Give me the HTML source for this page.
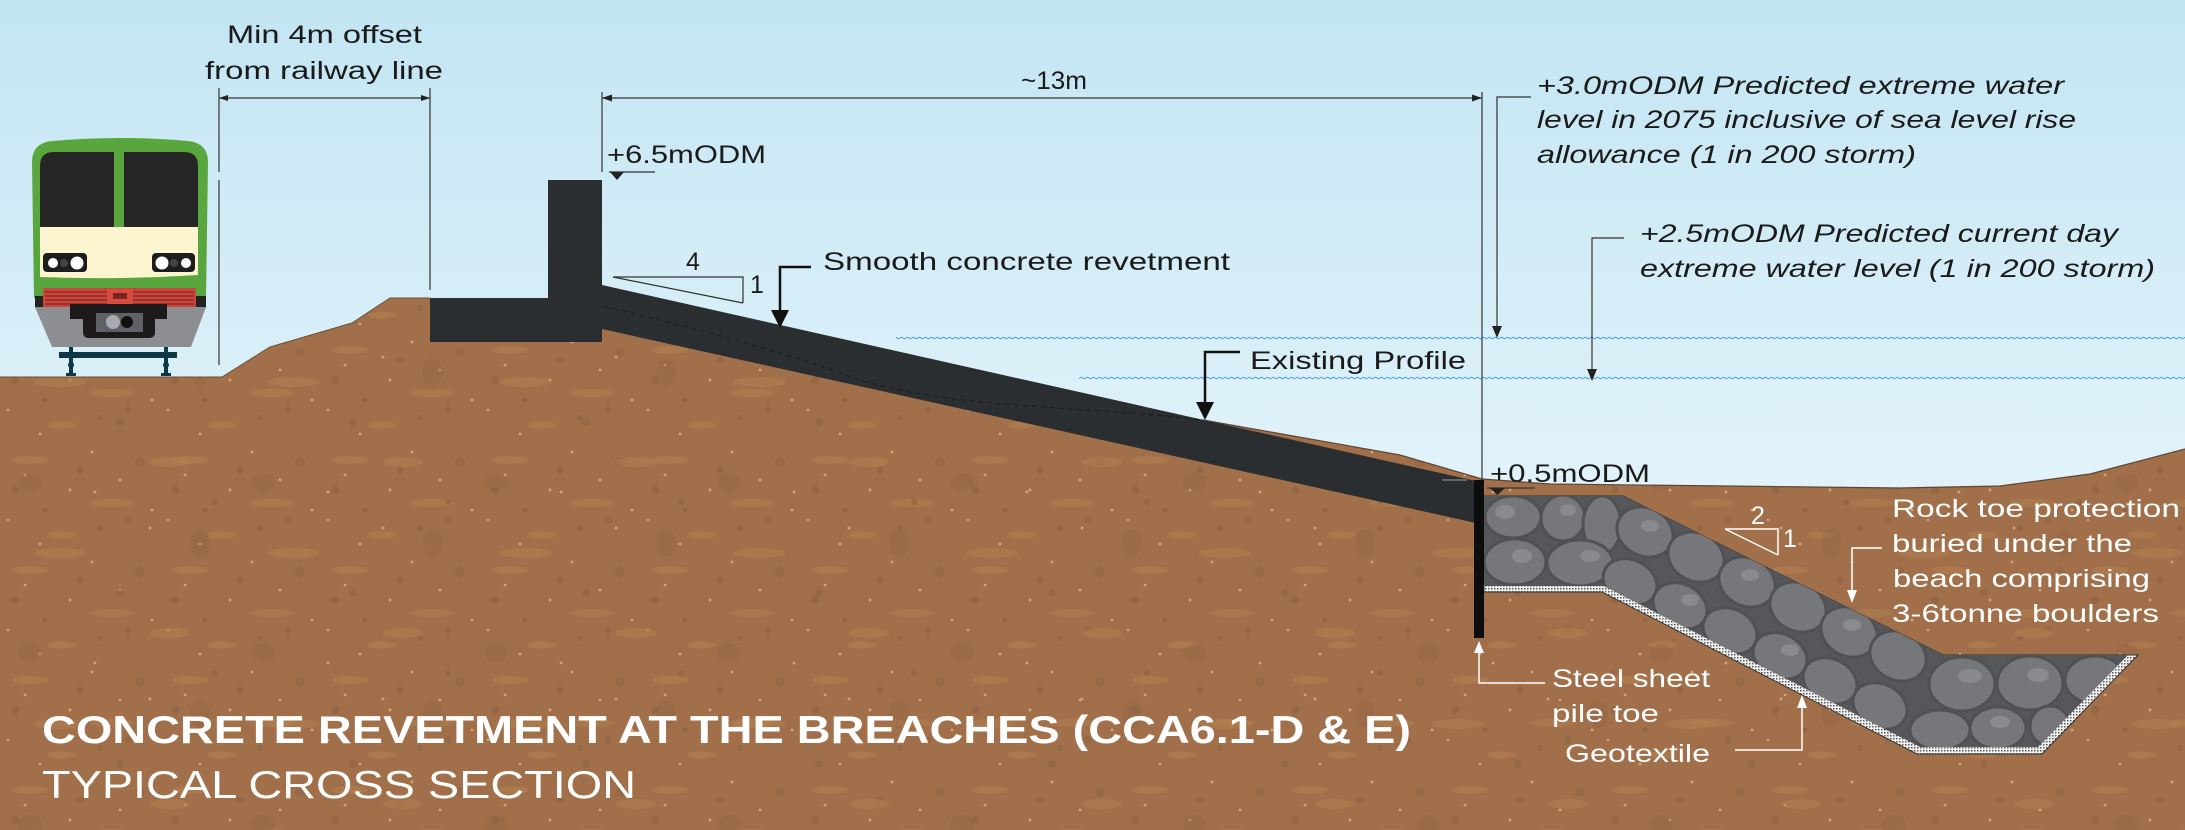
<!DOCTYPE html>
<html>
<head>
<meta charset="utf-8">
<style>
html,body{margin:0;padding:0;background:#c9e8f5;}
svg{display:block;}
text{font-family:"Liberation Sans",sans-serif;}
</style>
</head>
<body>
<svg width="2185" height="830" viewBox="0 0 2185 830" xmlns="http://www.w3.org/2000/svg">
<defs>
  <linearGradient id="sky" x1="0" y1="0" x2="0" y2="1">
    <stop offset="0" stop-color="#c3e5f3"/>
    <stop offset="0.6" stop-color="#e2f3fa"/>
    <stop offset="1" stop-color="#eef8fc"/>
  </linearGradient>
  <pattern id="soil" width="160" height="110" patternUnits="userSpaceOnUse">
    <rect width="160" height="110" fill="#a1704a"/>
    <ellipse cx="30" cy="20" rx="18" ry="4" fill="#b07d4e" opacity="0.7"/>
    <ellipse cx="112" cy="63" rx="22" ry="4" fill="#b07d4e" opacity="0.6"/>
    <ellipse cx="62" cy="95" rx="14" ry="3.5" fill="#b07d4e" opacity="0.7"/>
    <circle cx="15" cy="50" r="4" fill="#8c6142" opacity="0.6"/>
    <circle cx="80" cy="30" r="3.5" fill="#8c6142" opacity="0.6"/>
    <circle cx="140" cy="22" r="5" fill="#8c6142" opacity="0.45"/>
    <circle cx="100" cy="88" r="3" fill="#8c6142" opacity="0.6"/>
    <circle cx="45" cy="70" r="2.5" fill="#8c6142" opacity="0.7"/>
    <circle cx="128" cy="80" r="3.5" fill="#8c6142" opacity="0.5"/>
    <circle cx="25" cy="35" r="1.4" fill="#d4a578"/>
    <circle cx="70" cy="50" r="1.4" fill="#d4a578"/>
    <circle cx="120" cy="40" r="1.4" fill="#d4a578"/>
    <circle cx="152" cy="70" r="1.4" fill="#d4a578"/>
    <circle cx="92" cy="12" r="1.4" fill="#d4a578"/>
    <circle cx="40" cy="104" r="1.4" fill="#d4a578"/>
    <circle cx="8" cy="80" r="1.2" fill="#d4a578"/>
  </pattern>
  <pattern id="soil2" width="233" height="171" patternUnits="userSpaceOnUse">
    <ellipse cx="60" cy="40" rx="26" ry="5" fill="#b3804f" opacity="0.5"/>
    <ellipse cx="170" cy="120" rx="20" ry="5" fill="#b3804f" opacity="0.5"/>
    <ellipse cx="200" cy="30" rx="10" ry="14" fill="#8e6243" opacity="0.3"/>
    <ellipse cx="30" cy="140" rx="12" ry="9" fill="#8e6243" opacity="0.3"/>
    <circle cx="120" cy="80" r="4" fill="#8c6142" opacity="0.5"/>
    <circle cx="215" cy="160" r="3" fill="#8c6142" opacity="0.6"/>
    <circle cx="95" cy="150" r="1.4" fill="#d4a578"/>
    <circle cx="150" cy="15" r="1.4" fill="#d4a578"/>
  </pattern>
  <pattern id="wave" width="6" height="4" patternUnits="userSpaceOnUse">
    <path d="M0,2 Q1.5,0.6 3,2 T6,2" stroke="#4f9fd6" fill="none" stroke-width="1"/>
  </pattern>
  <pattern id="geo" width="3" height="3" patternUnits="userSpaceOnUse">
    <rect width="3" height="3" fill="#f2f2f2"/>
    <rect width="1.5" height="1.5" fill="#555"/>
  </pattern>
  <clipPath id="rockclip">
    <polygon points="1484,496 1623,496 1943,655 2128,655 2038,747 1920,747 1604,586 1484,586"/>
  </clipPath>
</defs>

<!-- sky -->
<rect x="0" y="0" width="2185" height="830" fill="url(#sky)"/>

<!-- ground -->
<polygon points="0,377 222,377 270,347 352,323 390,298 430,298 602,300 1203,420 1400,455 1482,479 1550,484 1900,488 2000,486 2090,474 2185,449 2185,830 0,830" fill="url(#soil)"/>
<polygon points="0,377 222,377 270,347 352,323 390,298 430,298 602,300 1203,420 1400,455 1482,479 1550,484 1900,488 2000,486 2090,474 2185,449 2185,830 0,830" fill="url(#soil2)"/>
<polyline points="0,377 222,377 270,347 352,323 390,298 430,298" fill="none" stroke="#6d5038" stroke-width="1"/>
<polyline points="1203,420 1400,455 1482,479 1550,484 1900,488 2000,486 2090,474 2185,449" fill="none" stroke="#5e4633" stroke-width="1.2"/>

<!-- water lines -->
<rect x="896" y="336" width="1289" height="4" fill="url(#wave)"/>
<rect x="1079" y="376" width="1106" height="4" fill="url(#wave)"/>

<!-- wall & revetment -->
<rect x="430" y="298" width="172" height="44" fill="#2b2e30"/>
<rect x="548" y="180" width="54" height="162" fill="#2b2e30"/>
<polygon points="602,285 1476,481 1476,523 602,329" fill="#2b2e30"/>
<path d="M604,306 C700,330 780,350 860,380 C960,410 1080,405 1203,420" fill="none" stroke="#1a1b1c" stroke-width="1" stroke-dasharray="5,4"/>

<!-- rock toe -->
<polygon points="1484,496 1623,496 1943,655 2138,655 2042,754 1917,754 1602,592 1484,592" fill="url(#geo)" stroke="#333" stroke-width="1"/>
<polygon points="1484,496 1623,496 1943,655 2128,655 2038,747 1920,747 1604,586 1484,586" fill="#56575a"/>
<g clip-path="url(#rockclip)" fill="#76777b" stroke="#505154" stroke-width="3">
  <ellipse cx="1513" cy="517" rx="28" ry="21"/>
  <ellipse cx="1563" cy="518" rx="22" ry="23"/>
  <ellipse cx="1602" cy="525" rx="19" ry="29"/>
  <ellipse cx="1515" cy="562" rx="31" ry="23"/>
  <ellipse cx="1580" cy="563" rx="33" ry="23"/>
  <g transform="rotate(26.6 1645 532)"><ellipse cx="1645" cy="532" rx="29" ry="24"/></g>
  <g transform="rotate(26.6 1696 557)"><ellipse cx="1696" cy="557" rx="29" ry="24"/></g>
  <g transform="rotate(26.6 1747 582)"><ellipse cx="1747" cy="582" rx="29" ry="24"/></g>
  <g transform="rotate(26.6 1798 607)"><ellipse cx="1798" cy="607" rx="29" ry="24"/></g>
  <g transform="rotate(26.6 1849 632)"><ellipse cx="1849" cy="632" rx="29" ry="24"/></g>
  <g transform="rotate(26.6 1898 656)"><ellipse cx="1898" cy="656" rx="29" ry="24"/></g>
  <g transform="rotate(26.6 1630 582)"><ellipse cx="1630" cy="582" rx="28" ry="22"/></g>
  <g transform="rotate(26.6 1680 606)"><ellipse cx="1680" cy="606" rx="28" ry="22"/></g>
  <g transform="rotate(26.6 1730 631)"><ellipse cx="1730" cy="631" rx="28" ry="22"/></g>
  <g transform="rotate(26.6 1780 656)"><ellipse cx="1780" cy="656" rx="28" ry="22"/></g>
  <g transform="rotate(26.6 1830 681)"><ellipse cx="1830" cy="681" rx="28" ry="22"/></g>
  <g transform="rotate(26.6 1880 706)"><ellipse cx="1880" cy="706" rx="28" ry="22"/></g>
  <ellipse cx="1962" cy="684" rx="33" ry="27"/>
  <ellipse cx="2030" cy="683" rx="33" ry="27"/>
  <ellipse cx="2095" cy="680" rx="30" ry="24"/>
  <ellipse cx="1940" cy="730" rx="30" ry="20"/>
  <ellipse cx="1998" cy="728" rx="28" ry="21"/>
  <ellipse cx="2050" cy="726" rx="20" ry="20"/>
</g>
<g clip-path="url(#rockclip)" fill="#8d8e92" opacity="0.85">
  <ellipse cx="1505" cy="512" rx="10" ry="7"/>
  <ellipse cx="1568" cy="510" rx="8" ry="6"/>
  <ellipse cx="1522" cy="556" rx="10" ry="7"/>
  <ellipse cx="1590" cy="556" rx="10" ry="6"/>
  <ellipse cx="1650" cy="526" rx="9" ry="6"/>
  <ellipse cx="1750" cy="575" rx="9" ry="6"/>
  <ellipse cx="1852" cy="625" rx="9" ry="6"/>
  <ellipse cx="1690" cy="600" rx="9" ry="6"/>
  <ellipse cx="1790" cy="650" rx="9" ry="6"/>
  <ellipse cx="1970" cy="676" rx="12" ry="7"/>
  <ellipse cx="2038" cy="675" rx="11" ry="7"/>
  <ellipse cx="2000" cy="722" rx="10" ry="6"/>
</g>

<!-- steel sheet pile -->
<rect x="1474" y="480" width="10" height="158" fill="#0d0d0d"/>

<!-- train -->
<g>
  <path d="M32,162 Q32,143 52,141 Q120,135 188,141 Q208,143 208,162 L206,298 L34,298 Z" fill="#5aa63e"/>
  <path d="M40,227 L40,166 Q40,152 54,152 L114,152 L114,227 Z" fill="#262626"/>
  <path d="M124,152 L184,152 Q198,152 198,166 L198,227 L124,227 Z" fill="#262626"/>
  <path d="M40,227 L198,227 L198,275 Q120,280 40,277 Z" fill="#fdf5cf"/>
  <rect x="43" y="253" width="44" height="19" rx="4" fill="#1d1d1d"/>
  <circle cx="53" cy="263" r="5" fill="#fff"/>
  <circle cx="64" cy="263" r="4" fill="#444"/>
  <circle cx="77" cy="263" r="6.5" fill="#fff"/>
  <rect x="152" y="253" width="43" height="19" rx="4" fill="#1d1d1d"/>
  <circle cx="162" cy="263" r="6.5" fill="#fff"/>
  <circle cx="174" cy="263" r="4" fill="#444"/>
  <circle cx="186" cy="263" r="5" fill="#fff"/>
  <rect x="35" y="296" width="171" height="12" fill="#222"/>
  <rect x="43" y="288" width="153" height="19" fill="#c9463d"/>
  <g stroke="#8f2a25" stroke-width="1.5">
    <line x1="45" y1="292" x2="194" y2="292"/>
    <line x1="45" y1="296" x2="194" y2="296"/>
    <line x1="45" y1="300" x2="194" y2="300"/>
    <line x1="45" y1="304" x2="194" y2="304"/>
  </g>
  <rect x="107" y="289" width="26" height="15" fill="#d64c40"/>
  <rect x="113" y="293" width="14" height="6" fill="#7a2420"/>
  <path d="M35,307 L206,307 L191,347 L52,347 Z" fill="#8d8e92"/>
  <rect x="70" y="304" width="97" height="15" fill="#1c1a1a"/>
  <path d="M83,318 L155,318 L155,332 Q155,338 149,338 L89,338 Q83,338 83,332 Z" fill="#1c1a1a"/>
  <rect x="96" y="313" width="47" height="19" fill="#606166"/>
  <circle cx="113" cy="322" r="7" fill="#a9a9b0"/>
  <circle cx="127" cy="322" r="6" fill="#111"/>
  <rect x="59" y="352" width="118" height="6" fill="#0e3846"/>
  <rect x="69" y="347" width="4" height="28" fill="#0e3846"/>
  <rect x="164" y="347" width="4" height="28" fill="#0e3846"/>
  <circle cx="71" cy="365" r="3" fill="#0e3846"/>
  <circle cx="166" cy="365" r="3" fill="#0e3846"/>
  <rect x="66" y="373" width="10" height="3" fill="#0e3846"/>
  <rect x="161" y="373" width="10" height="3" fill="#0e3846"/>
</g>

<!-- dimension lines -->
<g stroke="#333" stroke-width="1.2" fill="none">
  <line x1="219" y1="88" x2="219" y2="172"/>
  <line x1="219" y1="180" x2="219" y2="365"/>
  <line x1="430" y1="88" x2="430" y2="290"/>
  <line x1="219" y1="98" x2="430" y2="98"/>
  <line x1="602" y1="92" x2="602" y2="172"/>
  <line x1="1482" y1="92" x2="1482" y2="480"/>
  <line x1="602" y1="98" x2="1482" y2="98"/>
  <line x1="609" y1="172" x2="655" y2="172"/>
  <polyline points="613,277 743,277 743,303"/>
  <line x1="613" y1="277" x2="743" y2="303"/>
  <polyline points="1531,97 1497,97 1497,327"/>
  <polyline points="1624,238 1592,238 1592,370"/>
  <line x1="1487" y1="488" x2="1535" y2="488"/>
</g>
<line x1="1442" y1="480" x2="1467" y2="480" stroke="#888" stroke-width="1.2"/>
<g fill="#222">
  <polygon points="219,98 228,95 228,101"/>
  <polygon points="430,98 421,95 421,101"/>
  <polygon points="602,98 612,94.5 612,101.5"/>
  <polygon points="1482,98 1472,94.5 1472,101.5"/>
  <polygon points="610,172 624,172 617,180"/>
  <polygon points="1492,326 1502,326 1497,338"/>
  <polygon points="1587,369 1597,369 1592,381"/>
  <polygon points="1490,488 1505,488 1497.5,495"/>
</g>

<!-- black leaders -->
<g stroke="#111" stroke-width="2.5" fill="none">
  <polyline points="811,267 780,267 780,312"/>
  <polyline points="1240,352 1205,352 1205,404"/>
</g>
<g fill="#111">
  <polygon points="771,310 789,310 780,328"/>
  <polygon points="1196,402 1214,402 1205,420"/>
</g>

<!-- white leaders -->
<g stroke="#fff" stroke-width="1.5" fill="none">
  <polyline points="1882,548 1852,548 1852,592"/>
  <polyline points="1479,652 1479,683 1545,683"/>
  <polyline points="1735,750 1802,750 1802,707"/>
  <polyline points="1725,529 1778,529 1778,555"/>
  <line x1="1725" y1="529" x2="1778" y2="555"/>
</g>
<g fill="#fff">
  <polygon points="1847,590 1857,590 1852,603"/>
  <polygon points="1474,653 1484,653 1479,641"/>
  <polygon points="1797,708 1807,708 1802,695"/>
</g>

<!-- dark labels -->
<g fill="#1a1a1a" font-size="25">
  <text x="227" y="43" textLength="195" lengthAdjust="spacingAndGlyphs">Min 4m offset</text>
  <text x="205" y="79" textLength="238" lengthAdjust="spacingAndGlyphs">from railway line</text>
  <text x="1021" y="89" textLength="66" lengthAdjust="spacingAndGlyphs">~13m</text>
  <text x="607" y="163" textLength="159" lengthAdjust="spacingAndGlyphs">+6.5mODM</text>
  <text x="686" y="270">4</text>
  <text x="750" y="293">1</text>
  <text x="823" y="270" textLength="407" lengthAdjust="spacingAndGlyphs">Smooth concrete revetment</text>
  <text x="1250" y="369" textLength="216" lengthAdjust="spacingAndGlyphs">Existing Profile</text>
  <text x="1490" y="482" textLength="160" lengthAdjust="spacingAndGlyphs">+0.5mODM</text>
</g>
<g fill="#1a1a1a" font-size="25" font-style="italic">
  <text x="1537" y="94" textLength="527" lengthAdjust="spacingAndGlyphs">+3.0mODM Predicted extreme water</text>
  <text x="1537" y="128" textLength="539" lengthAdjust="spacingAndGlyphs">level in 2075 inclusive of sea level rise</text>
  <text x="1537" y="163" textLength="379" lengthAdjust="spacingAndGlyphs">allowance (1 in 200 storm)</text>
  <text x="1640" y="242" textLength="478" lengthAdjust="spacingAndGlyphs">+2.5mODM Predicted current day</text>
  <text x="1640" y="277" textLength="515" lengthAdjust="spacingAndGlyphs">extreme water level (1 in 200 storm)</text>
</g>

<!-- white labels -->
<g fill="#ffffff" font-size="25">
  <text x="1892" y="517" textLength="288" lengthAdjust="spacingAndGlyphs">Rock toe protection</text>
  <text x="1892" y="552" textLength="240" lengthAdjust="spacingAndGlyphs">buried under the</text>
  <text x="1893" y="587" textLength="257" lengthAdjust="spacingAndGlyphs">beach comprising</text>
  <text x="1892" y="622" textLength="267" lengthAdjust="spacingAndGlyphs">3-6tonne boulders</text>
  <text x="1751" y="524">2</text>
  <text x="1783" y="547">1</text>
  <text x="1552" y="687" textLength="158" lengthAdjust="spacingAndGlyphs">Steel sheet</text>
  <text x="1552" y="722" textLength="107" lengthAdjust="spacingAndGlyphs">pile toe</text>
  <text x="1565" y="762" textLength="145" lengthAdjust="spacingAndGlyphs">Geotextile</text>
</g>

<!-- title -->
<text x="42" y="743" fill="#fff" font-size="39" font-weight="bold" textLength="1369" lengthAdjust="spacingAndGlyphs">CONCRETE REVETMENT AT THE BREACHES (CCA6.1-D &amp; E)</text>
<text x="42" y="798" fill="#fff" font-size="39" textLength="594" lengthAdjust="spacingAndGlyphs">TYPICAL CROSS SECTION</text>
</svg>
</body>
</html>
